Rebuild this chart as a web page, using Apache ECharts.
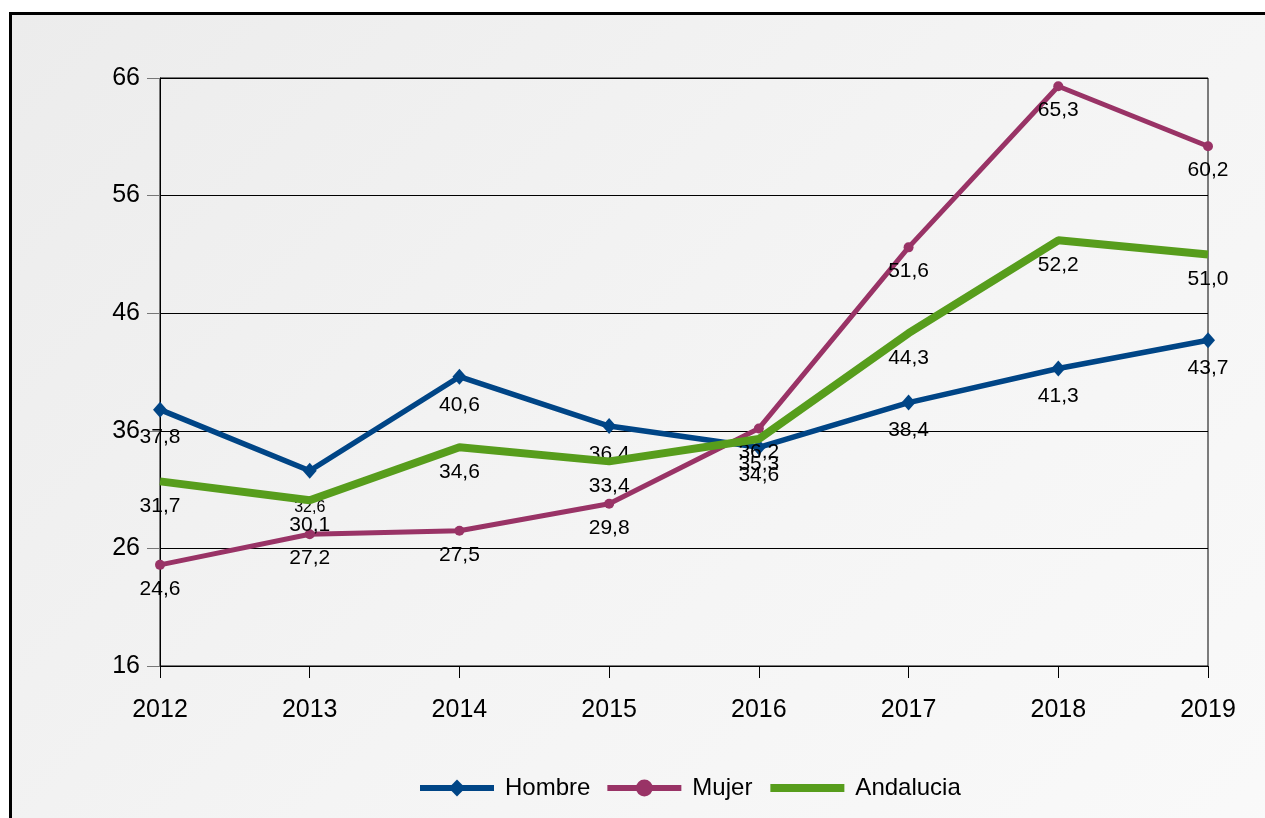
<!DOCTYPE html>
<html>
<head>
<meta charset="utf-8">
<script src="https://cdn.jsdelivr.net/npm/echarts@6/dist/echarts.min.js"></script>
<style>
html,body{margin:0;padding:0;width:1265px;height:818px;overflow:hidden;background:#fff;}
#frame{position:absolute;left:9px;top:12px;width:1300px;height:900px;border:3px solid #000;
background:linear-gradient(135deg,#ececec 0%,#f4f4f4 50%,#fafafa 100%);}
#chart{position:absolute;left:0;top:0;width:1265px;height:818px;}
</style>
</head>
<body>
<div id="frame"></div>
<div id="chart"></div>
<script>
const years = ['2012','2013','2014','2015','2016','2017','2018','2019'];
const hombre = [37.8, 32.6, 40.6, 36.4, 34.6, 38.4, 41.3, 43.7];
const mujer = [24.6, 27.2, 27.5, 29.8, 36.2, 51.6, 65.3, 60.2];
const andalucia = [31.7, 30.1, 34.6, 33.4, 35.3, 44.3, 52.2, 51.0];
const yTicks = [16, 26, 36, 46, 56, 66];

const SANS = "'Liberation Sans',Arial,sans-serif";
const fmt = v => v.toFixed(1).replace('.', ',');

function labelCfg(offsetY){
  return {show:true, position:'inside', offset:[0, offsetY], color:'#000',
    fontFamily:SANS, fontSize:21, formatter:p => fmt(p.value)};
}

const hombreData = hombre.map((v,i) => i === 1
  ? {value:v, label:{fontSize:16, offset:[0,37]}}
  : v);

const C_H = '#004586', C_M = '#993366', C_A = '#579d1c';

const chart = echarts.init(document.getElementById('chart'), null, {renderer:'canvas'});
chart.setOption({
  backgroundColor:'transparent',
  animation:false,
  grid:{left:160, right:57, top:78, bottom:152, show:true, borderColor:'#000', borderWidth:1, containLabel:false},
  legend:{
    bottom:13, left:412, itemWidth:74, itemHeight:21, itemGap:14,
    textStyle:{fontFamily:SANS, fontSize:24, color:'#000', padding:[0,0,0,6]},
    data:[
      {name:'Hombre', lineStyle:{width:6, color:C_H}},
      {name:'Mujer', lineStyle:{width:6, color:C_M}},
      {name:'Andalucia', lineStyle:{width:8, color:C_A}, itemStyle:{opacity:0}}
    ]
  },
  xAxis:{
    type:'category', data:years, boundaryGap:false,
    axisLine:{lineStyle:{color:'#000', width:1}},
    axisTick:{show:true, length:12, lineStyle:{color:'#000'}},
    axisLabel:{fontFamily:SANS, fontSize:25, color:'#000', margin:32},
    splitLine:{show:false}
  },
  yAxis:{
    type:'value', min:yTicks[0], max:yTicks[yTicks.length-1], interval:10,
    axisLine:{show:true, lineStyle:{color:'#000', width:1}},
    axisTick:{show:true, length:13, lineStyle:{color:'#777'}},
    axisLabel:{fontFamily:SANS, fontSize:25, color:'#000', margin:20},
    splitLine:{show:true, lineStyle:{color:'#000', width:1}}
  },
  series:[
    {name:'Hombre', type:'line', data:hombreData, symbol:'diamond', symbolSize:[14,16],
     color:C_H, lineStyle:{width:5.5, color:C_H}, itemStyle:{color:C_H},
     label:labelCfg(28), z:2},
    {name:'Mujer', type:'line', data:mujer, symbol:'circle', symbolSize:10,
     color:C_M, lineStyle:{width:5, color:C_M}, itemStyle:{color:C_M},
     label:labelCfg(24), z:3},
    {name:'Andalucia', type:'line', data:andalucia, symbol:'circle', symbolSize:0.1,
     color:C_A, lineStyle:{width:8, color:C_A}, itemStyle:{color:C_A},
     label:labelCfg(25), z:4}
  ]
});
</script>
</body>
</html>
